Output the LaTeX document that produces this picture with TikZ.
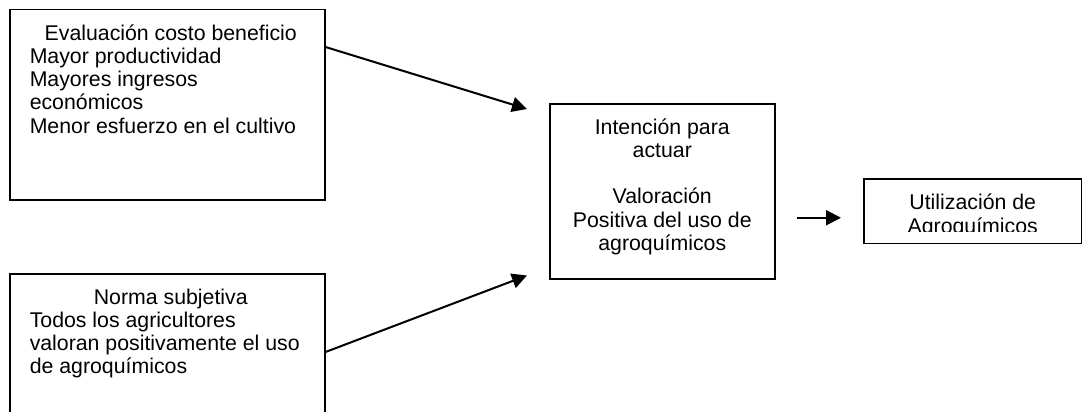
\documentclass[tikz,border=0pt]{standalone}
\usepackage{fontspec}
\setmainfont{Liberation Sans}
\usepackage{tikz}
\usetikzlibrary{arrows.meta,calc}
\tikzset{
         caja/.style={draw,line width=1.5pt,rectangle,inner xsep=20pt,inner ysep=14pt,anchor=north west,
                      font=\fontsize{21.3}{23.3}\selectfont},
         flecha/.style={line width=2pt,-{Triangle[length=15pt,width=15pt]}}
        }

\begin{document}
\begin{tikzpicture}[x=1pt,y=-1pt]
\useasboundingbox(0,0)rectangle(1084,412);
\node[caja](evaluacion)at(9,9){\begin{minipage}[t][162pt][t]{275pt}\centering\strut\hspace*{7pt}Evaluación costo beneficio\par
\raggedright Mayor productividad\\Mayores ingresos\\económicos\\Menor esfuerzo en el cultivo\end{minipage}};
\node[caja](norma)at(9,273){\begin{minipage}[t][172pt][t]{275pt}\centering\strut\hspace*{7pt}Norma subjetiva\par
\raggedright Todos los agricultores\\valoran positivamente el uso\\de agroquímicos\end{minipage}};
\node[caja](intencion)at(549,103){\begin{minipage}[t][147pt][t]{185pt}\centering\strut Intención para\\actuar\\[23.3pt]
Valoración\\Positiva del uso de\\agroquímicos\end{minipage}};
\begin{scope}
\clip(864,179)rectangle(1084,231);
\node[caja,draw=none,inner ysep=13.7pt](utilizacion)at(864,179){\begin{minipage}[t][35.6pt][t]{176pt}\centering\strut Utilización de\\Agroquímicos\end{minipage}};
\end{scope}
\draw[line width=1.5pt](utilizacion.north west)rectangle(utilizacion.south east);
%arrows
\draw[flecha]([yshift=-38pt]evaluacion.north east)--([xshift=-22pt,yshift=-6pt]intencion.north west);
\draw[flecha]([yshift=-79pt]norma.north east)--([xshift=-22pt,yshift=4pt]intencion.south west);
\draw[flecha]([xshift=21pt,yshift=-26.5pt]intencion.east)--([xshift=-23pt,yshift=-6.5pt]utilizacion.west);
\end{tikzpicture}
\end{document}
